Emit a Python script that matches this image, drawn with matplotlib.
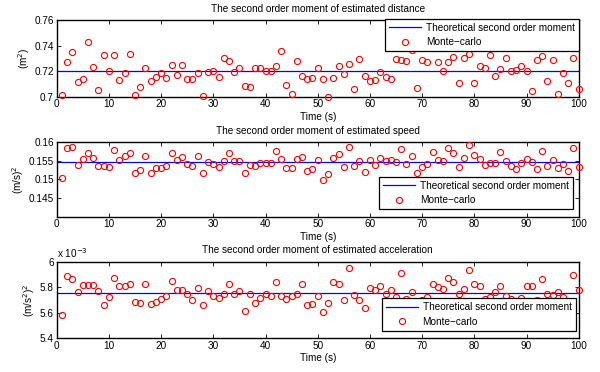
import numpy as np
import matplotlib.pyplot as plt
from matplotlib.ticker import FuncFormatter

plt.rcParams['font.family'] = ['Liberation Sans', 'DejaVu Sans']

# time axis
t = np.arange(1, 101)

# theoretical second order moments
theo_dist = 0.72
theo_speed = 0.15464
theo_acc = 5.753e-3

# Monte-carlo estimates
mc_dist = [
    0.7017, 0.7268, 0.7349, 0.7119, 0.7135, 0.7430, 0.7234, 0.7054, 0.7323, 0.7200,
    0.7323, 0.7130, 0.7184, 0.7338, 0.7017, 0.7077, 0.7223, 0.7124, 0.7158, 0.7187,
    0.7148, 0.7250, 0.7169, 0.7247, 0.7137, 0.7137, 0.7182, 0.7004, 0.7190, 0.7205,
    0.7153, 0.7302, 0.7276, 0.7190, 0.7223, 0.7085, 0.7077, 0.7223, 0.7223, 0.7200,
    0.7200, 0.7237, 0.7359, 0.7088, 0.7023, 0.7276, 0.7163, 0.7137, 0.7150, 0.7223,
    0.7137, 0.7001, 0.7143, 0.7242, 0.7177, 0.7260, 0.7062, 0.7297, 0.7163, 0.7124,
    0.7130, 0.7190, 0.7153, 0.7137, 0.7297, 0.7286, 0.7278, 0.7365, 0.7067, 0.7284,
    0.7270, 0.7380, 0.7270, 0.7200, 0.7270, 0.7310, 0.7111, 0.7302, 0.7333, 0.7111,
    0.7242, 0.7221, 0.7323, 0.7166, 0.7216, 0.7302, 0.7200, 0.7213, 0.7239, 0.7200,
    0.7043, 0.7284, 0.7320, 0.7122, 0.7284, 0.7023, 0.7182, 0.7111, 0.7307, 0.7064,
]

mc_speed = [
    0.15045, 0.15839, 0.15875, 0.15384, 0.15536, 0.15696, 0.15571, 0.15357, 0.15357, 0.15330,
    0.15777, 0.15518, 0.15616, 0.15705, 0.15170, 0.15259, 0.15634, 0.15161, 0.15295, 0.15295,
    0.15357, 0.15696, 0.15509, 0.15607, 0.15420, 0.15357, 0.15625, 0.15161, 0.15455, 0.15402,
    0.15321, 0.15491, 0.15696, 0.15482, 0.15482, 0.15179, 0.15393, 0.15357, 0.15429, 0.15438,
    0.15438, 0.15759, 0.15545, 0.15312, 0.15312, 0.15536, 0.15607, 0.15223, 0.15268, 0.15509,
    0.14973, 0.15143, 0.15580, 0.15679, 0.15321, 0.15875, 0.15366, 0.15482, 0.15196, 0.15509,
    0.15384, 0.15563, 0.15491, 0.15518, 0.15464, 0.15821, 0.15402, 0.15616, 0.15161, 0.15330,
    0.15420, 0.15723, 0.15527, 0.15491, 0.15848, 0.15696, 0.15330, 0.15563, 0.15929, 0.15652,
    0.15536, 0.15375, 0.15429, 0.15429, 0.15732, 0.15491, 0.15366, 0.15268, 0.15429, 0.15545,
    0.15464, 0.15277, 0.15759, 0.15366, 0.15518, 0.15295, 0.15420, 0.15232, 0.15839, 0.15339,
]

# acceleration values in units of 1e-3
mc_acc_e3 = [
    5.581, 5.891, 5.868, 5.763, 5.821, 5.821, 5.821, 5.774, 5.657, 5.722,
    5.870, 5.808, 5.810, 5.829, 5.688, 5.680, 5.823, 5.670, 5.688, 5.711,
    5.732, 5.852, 5.782, 5.782, 5.743, 5.701, 5.797, 5.657, 5.771, 5.735,
    5.714, 5.750, 5.829, 5.743, 5.771, 5.612, 5.743, 5.677, 5.719, 5.750,
    5.732, 5.842, 5.730, 5.706, 5.735, 5.748, 5.826, 5.659, 5.672, 5.735,
    5.604, 5.675, 5.837, 5.823, 5.701, 5.949, 5.740, 5.698, 5.641, 5.792,
    5.777, 5.810, 5.745, 5.779, 5.724, 5.912, 5.710, 5.766, 5.680, 5.700,
    5.722, 5.829, 5.805, 5.787, 5.876, 5.837, 5.743, 5.784, 5.933, 5.826,
    5.810, 5.711, 5.720, 5.761, 5.813, 5.730, 5.710, 5.690, 5.717, 5.808,
    5.813, 5.700, 5.863, 5.750, 5.740, 5.763, 5.724, 5.690, 5.899, 5.782,
]
mc_acc = np.array(mc_acc_e3) * 1e-3

fig = plt.figure(figsize=(6, 3.72), dpi=100)
fs = 7.2

panels = [
    dict(rect=[0.0945, 0.740, 0.87, 0.206], y=mc_dist, theo=theo_dist,
         ylim=(0.70, 0.76), yticks=[0.70, 0.72, 0.74, 0.76], scale=1,
         title="The second order moment of estimated distance",
         ylabel="(m$^2$)", loc="upper right", anchor=(1.0, 1.015)),
    dict(rect=[0.0945, 0.4175, 0.87, 0.2008], y=mc_speed, theo=theo_speed,
         ylim=(0.14, 0.16), yticks=[0.145, 0.15, 0.155, 0.16], scale=1,
         title="The second order moment of estimated speed",
         ylabel="(m/s)$^2$", loc="lower right", anchor=(0.990, 0.099)),
    dict(rect=[0.0945, 0.0906, 0.87, 0.206], y=mc_acc, theo=theo_acc,
         ylim=(5.4e-3, 6.0e-3), yticks=[5.4e-3, 5.6e-3, 5.8e-3, 6.0e-3], scale=1e3,
         title="The second order moment of estimated acceleration",
         ylabel="(m/s$^2$)$^2$", loc="lower right", anchor=(0.994, 0.099)),
]

for p in panels:
    ax = fig.add_axes(p["rect"])
    ax.plot([0, 100], [p["theo"], p["theo"]], color="blue", lw=0.9,
            label="Theoretical second order moment")
    ax.plot(t, p["y"], "o", mfc="none", mec="red", ms=4.4, mew=0.8,
            label="Monte\u2212carlo", clip_on=False, zorder=3)
    ax.set_xlim(0, 100)
    ax.set_ylim(*p["ylim"])
    ax.set_xticks(range(0, 101, 10))
    ax.set_yticks(p["yticks"])
    sc = p["scale"]
    ax.yaxis.set_major_formatter(FuncFormatter(lambda v, pos, sc=sc: "%g" % round(v * sc, 6)))
    ax.tick_params(direction="in", top=True, right=True, labelsize=fs,
                   length=3, width=0.6, pad=2)
    for s in ax.spines.values():
        s.set_linewidth(1.0)
    ax.set_title(p["title"], fontsize=fs, pad=6)
    ax.set_xlabel("Time (s)", fontsize=fs, labelpad=1.5)
    ax.set_ylabel(p["ylabel"], fontsize=fs, labelpad=2)
    leg = ax.legend(loc=p["loc"], bbox_to_anchor=p["anchor"], fontsize=fs,
                    fancybox=False, framealpha=1, edgecolor="black",
                    borderpad=0.4, labelspacing=0.45, handlelength=3.2,
                    handletextpad=0.5, borderaxespad=0.0)
    leg.get_frame().set_linewidth(0.9)
    leg.set_zorder(10)
    if sc != 1:
        ax.text(0.0, 1.02, "x 10$^{-3}$", transform=ax.transAxes, fontsize=fs,
                va="bottom", ha="left")

plt.savefig("out.png", dpi=100)
plt.close()
